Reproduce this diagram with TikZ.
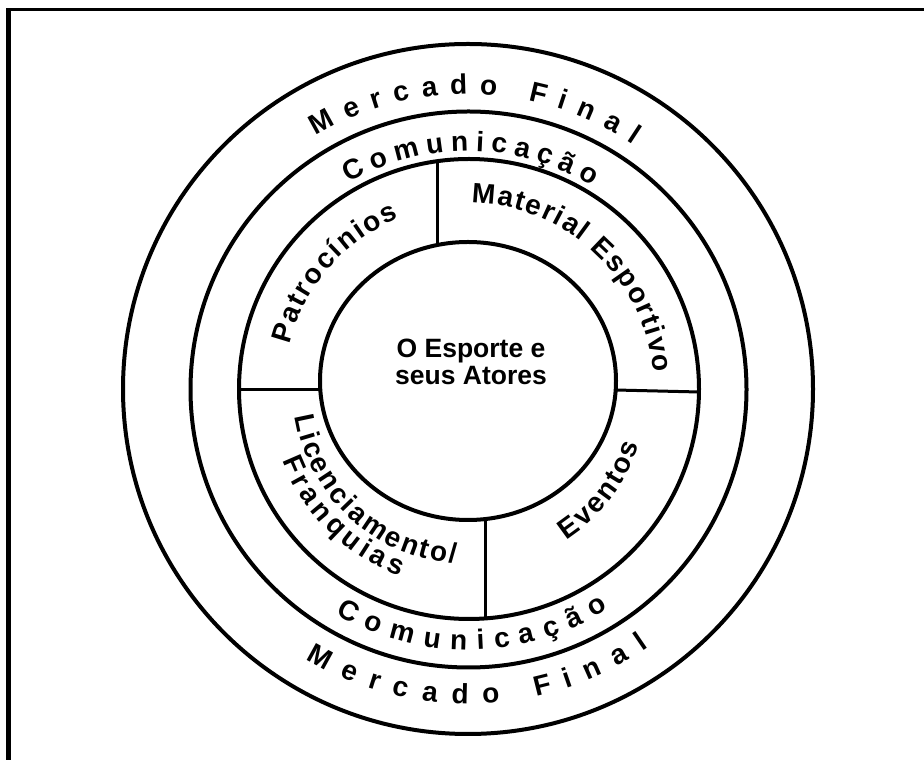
\documentclass[tikz,border=0pt]{standalone}
\usepackage{fontspec}
\setmainfont{Liberation Sans}
\usetikzlibrary{decorations.text}
\newcommand\ringfont{\bfseries\fontsize{28}{28}\selectfont}
\newcommand\secfont{\bfseries\fontsize{28}{28}\selectfont}
\begin{document}
\begin{tikzpicture}[x=1pt,y=1pt,
  ring/.style={line width=4pt},
  divider/.style={line width=3pt},
  arctext/.style={decorate, decoration={text along path, text align=fit to path, text={#1}}}]
\useasboundingbox (0,0) rectangle (924,760);
% frame (top and left edges only)
\draw[line width=3pt] (6,750) -- (924,750);
\draw[line width=5pt] (8.5,751.5) -- (8.5,0);
% rings
\draw[ring] (468,371) circle[radius=345];
\draw[ring] (468.5,370.5) circle[radius=278];
\draw[ring] (469,371) circle[radius=230];
\draw[ring] (468,379) ellipse[x radius=148, y radius=139];
% dividers
\coordinate (topA) at (437,599);
\coordinate (topB) at (437,515);
\coordinate (leftA) at (239,370);
\coordinate (leftB) at (320.5,370);
\coordinate (rightA) at (615.5,370);
\coordinate (rightB) at (699,368);
\coordinate (botA) at (485,241);
\coordinate (botB) at (485,142);
\draw[divider] (topA) -- (topB);
\draw[divider] (leftA) -- (leftB);
\draw[divider] (rightA) -- (rightB);
\draw[divider] (botA) -- (botB);
% centre
\node[font=\bfseries\fontsize{26.5}{27}\selectfont, align=center, inner sep=0] (core) at (471,398) {O Esporte e\\seus Atores};
% curved labels
\begin{scope}[shift={(468,371)}]
{\ringfont
\path[arctext={Mercado Final}] (121:295) arc[start angle=121, end angle=56, radius=295];
\path[arctext={Comunicação}] (120:238) arc[start angle=120, end angle=58.5, radius=238];
\path[arctext={Comunicação}] (239.5:261) arc[start angle=239.5, end angle=302.5, radius=261];
\path[arctext={Mercado Final}] (239:315) arc[start angle=239, end angle=305, radius=315];
}
{\secfont
\path[arctext={Patrocínios}] (166:184) arc[start angle=166, end angle=112, radius=184];
\path[arctext={Material Esportivo}] (89:186) arc[start angle=89, end angle=5, radius=186];
\path[arctext={Eventos}] (-57:180) arc[start angle=-57, end angle=-18, radius=180];
\path[arctext={Licenciamento/}] (189:175) arc[start angle=189, end angle=266, radius=175];
\path[arctext={Franquias}] (201:199) arc[start angle=201, end angle=250, radius=199];
}
\end{scope}
\end{tikzpicture}
\end{document}
